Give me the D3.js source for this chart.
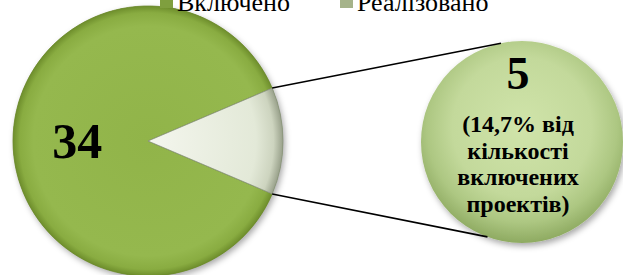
<!DOCTYPE html>
<html>
<head>
<meta charset="utf-8">
<script src="https://cdn.jsdelivr.net/npm/d3@7/dist/d3.min.js"></script>
<style>
  body { margin: 0; background: #fff; }
  svg { display: block; }
</style>
</head>
<body>
<div id="chart"></div>
<script>
// data
const categories = ["Включено", "Реалізовано"];
const values = [34, 5];
const legendColors = ["#7f9f3e", "#a5b38a"];
const bigLabel = "34";
const smallValue = [5];
const smallLabel = ["5", "(14,7% від", "кількості", "включених", "проектів)"];

const FONT = "Liberation Serif";
const W = 623, H = 275;
const svg = d3.select("#chart").append("svg").attr("width", W).attr("height", H)
  .attr("font-family", FONT);
const defs = svg.append("defs");

const cx = 148, cy = 141, R = 135;
const sx = 522, sy = 142, sR = 101;

function radial(id, x, y, r, stops) {
  const g = defs.append("radialGradient").attr("id", id)
    .attr("gradientUnits", "userSpaceOnUse")
    .attr("cx", x).attr("cy", y).attr("r", r);
  stops.forEach(s => g.append("stop").attr("offset", s[0]).attr("stop-color", s[1]));
}
radial("gMain", 0, 0, R, [["0%", "#91b449"], ["85%", "#95b84e"], ["95%", "#89ac41"], ["100%", "#6e8e2c"]]);
radial("gSlice", 0, 0, R, [["0%", "#f4f6ee"], ["80%", "#e3e9d8"], ["93%", "#cdd4bf"], ["100%", "#98a08a"]]);
radial("gSmall", 0, -15, sR + 15, [["0%", "#d0e4aa"], ["60%", "#c3d99b"], ["82%", "#adc782"], ["100%", "#8eaa61"]]);

const sh = defs.append("filter").attr("id", "shadow")
  .attr("x", "-10%").attr("y", "-10%").attr("width", "125%").attr("height", "125%");
sh.append("feDropShadow").attr("dx", 2).attr("dy", 3).attr("stdDeviation", 3)
  .attr("flood-color", "#000").attr("flood-opacity", 0.35);

// main pie
const total = d3.sum(values);
const a = 2 * Math.PI * values[1] / total;
const start = Math.PI / 2 - a / 2 - 2 * Math.PI * values[0] / total;
const pie = d3.pie().sort(null).startAngle(start).endAngle(start + 2 * Math.PI);
const arcs = pie(values);
const arc = d3.arc().innerRadius(0).outerRadius(R);

const main = svg.append("g").attr("transform", `translate(${cx},${cy})`);
main.append("circle").attr("r", R).attr("fill", "url(#gMain)").attr("filter", "url(#shadow)");
main.selectAll("path.slice").data(arcs).join("path")
  .attr("class", "slice")
  .attr("d", arc)
  .attr("fill", (d, i) => i === 0 ? "url(#gMain)" : "url(#gSlice)")
  .attr("stroke", (d, i) => i === 0 ? "#6d8a2e" : "#8c9482")
  .attr("stroke-width", 0.8);

const c = d3.arc().innerRadius(0).outerRadius(R * 1.05).centroid(arcs[0]);
main.append("text")
  .attr("x", c[0]).attr("y", c[1] + 17)
  .attr("text-anchor", "middle")
  .attr("font-family", FONT)
  .attr("font-size", 50).attr("font-weight", "bold")
  .text(bigLabel);

// second pie
const pie2 = d3.pie().sort(null);
const arc2 = d3.arc().innerRadius(0).outerRadius(sR);
const second = svg.append("g").attr("transform", `translate(${sx},${sy})`);
second.selectAll("path").data(pie2(smallValue)).join("path")
  .attr("d", arc2)
  .attr("fill", "url(#gSmall)")
  .attr("filter", "url(#shadow)");

// connector lines
const p1 = [cx + R * Math.sin(arcs[1].startAngle), cy - R * Math.cos(arcs[1].startAngle)];
const p2 = [cx + R * Math.sin(arcs[1].endAngle), cy - R * Math.cos(arcs[1].endAngle)];
const q1 = [sx + sR * Math.cos(-102 * Math.PI / 180), sy + sR * Math.sin(-102 * Math.PI / 180)];
const q2 = [sx + sR * Math.cos(110 * Math.PI / 180), sy + sR * Math.sin(110 * Math.PI / 180)];
svg.append("g").selectAll("line").data([[p1, q1], [p2, q2]]).join("line")
  .attr("x1", d => d[0][0]).attr("y1", d => d[0][1])
  .attr("x2", d => d[1][0]).attr("y2", d => d[1][1])
  .attr("stroke", "#000").attr("stroke-width", 1.6);

second.append("text").attr("text-anchor", "middle").attr("font-weight", "bold")
  .attr("font-family", FONT)
  .attr("x", -4).attr("y", -53).attr("font-size", 46).text(smallLabel[0]);
second.selectAll("text.line").data(smallLabel.slice(1)).join("text")
  .attr("class", "line")
  .attr("text-anchor", "middle").attr("font-weight", "bold")
  .attr("font-family", FONT)
  .attr("x", -4).attr("y", (d, i) => -10 + i * 26.5)
  .attr("font-size", 24).text(d => d);

// legend
const leg = svg.append("g").attr("transform", "translate(160,0)");
const item = leg.selectAll("g").data(categories).join("g")
  .attr("transform", (d, i) => `translate(${i * 180},0)`);
item.append("rect").attr("x", 0).attr("y", -4).attr("width", 13).attr("height", 12)
  .attr("fill", (d, i) => legendColors[i]);
item.append("text").attr("x", 17).attr("y", 11).attr("font-size", 26)
  .attr("font-family", FONT).text(d => d);
</script>
</body>
</html>
